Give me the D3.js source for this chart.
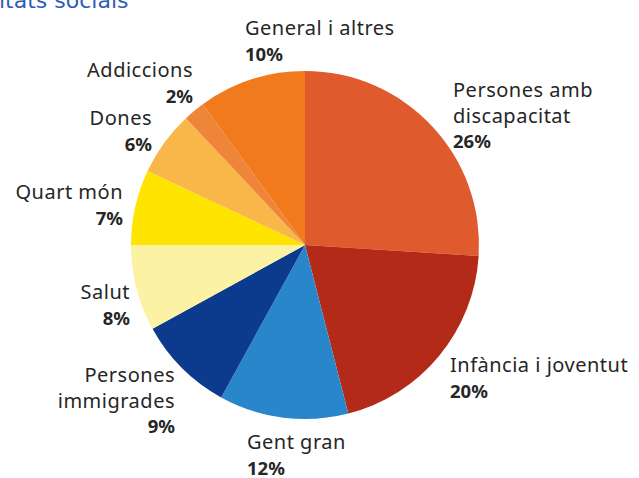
<!DOCTYPE html>
<html>
<head>
<meta charset="utf-8">
<script src="https://cdn.jsdelivr.net/npm/d3@7"></script>
<style>
  html, body { margin: 0; padding: 0; background: #fff; }
  svg { display: block; }
</style>
</head>
<body>
<svg id="chart" width="639" height="478"></svg>
<script>
const categories = ["Persones amb discapacitat", "Infància i joventut", "Gent gran", "Persones immigrades", "Salut", "Quart món", "Dones", "Addiccions", "General i altres"];
const values = [26, 20, 12, 9, 8, 7, 6, 2, 10];
const colors = ["#DF5A2C", "#B42A19", "#2A86CA", "#0C3B8D", "#FCF2A4", "#FFE400", "#F8B748", "#EE8538", "#F07A1C"];
const labelLines = [
  ["Persones amb", "discapacitat"],
  ["Infància i joventut"],
  ["Gent gran"],
  ["Persones", "immigrades"],
  ["Salut"],
  ["Quart món"],
  ["Dones"],
  ["Addiccions"],
  ["General i altres"]
];
const pctLabels = ["26%", "20%", "12%", "9%", "8%", "7%", "6%", "2%", "10%"];
const titleText = "itats socials";

const svg = d3.select("#chart");
const cx = 305, cy = 245, R = 174;

const pie = d3.pie().sort(null).value(d => d.v);
const arcs = pie(values.map((v, i) => ({ v, i })));
const arc = d3.arc().innerRadius(0).outerRadius(R);

const g = svg.append("g").attr("transform", `translate(${cx},${cy})`);
g.selectAll("path").data(arcs).join("path")
  .attr("d", arc)
  .attr("fill", d => colors[d.data.i]);

const labelPos = [
  { x: 453, y: 97, anchor: "start" },
  { x: 450, y: 372, anchor: "start" },
  { x: 247, y: 449, anchor: "start" },
  { x: 175, y: 382, anchor: "end" },
  { x: 130, y: 299, anchor: "end" },
  { x: 123, y: 199, anchor: "end" },
  { x: 152, y: 125, anchor: "end" },
  { x: 193, y: 77, anchor: "end" },
  { x: 245, y: 35, anchor: "start" }
];
const lh = 25.5;
const font = "'Noto Sans', sans-serif";

categories.forEach((c, i) => {
  const p = labelPos[i];
  const t = svg.append("text")
    .attr("x", p.x).attr("y", p.y)
    .attr("text-anchor", p.anchor)
    .attr("font-family", font)
    .attr("fill", "#262626");
  labelLines[i].forEach((ln, k) => {
    t.append("tspan").attr("x", p.x).attr("dy", k === 0 ? 0 : lh)
      .attr("font-size", 20).attr("letter-spacing", 0.5).text(ln);
  });
  t.append("tspan").attr("x", p.x).attr("dy", lh)
    .attr("font-size", 18.5).attr("font-weight", "bold").text(pctLabels[i]);
});

svg.append("text")
  .attr("x", -1).attr("y", 8)
  .attr("font-family", "'DejaVu Sans', Verdana, sans-serif")
  .attr("font-size", 22)
  .attr("fill", "#2F5DB5")
  .text(titleText);
</script>
</body>
</html>
